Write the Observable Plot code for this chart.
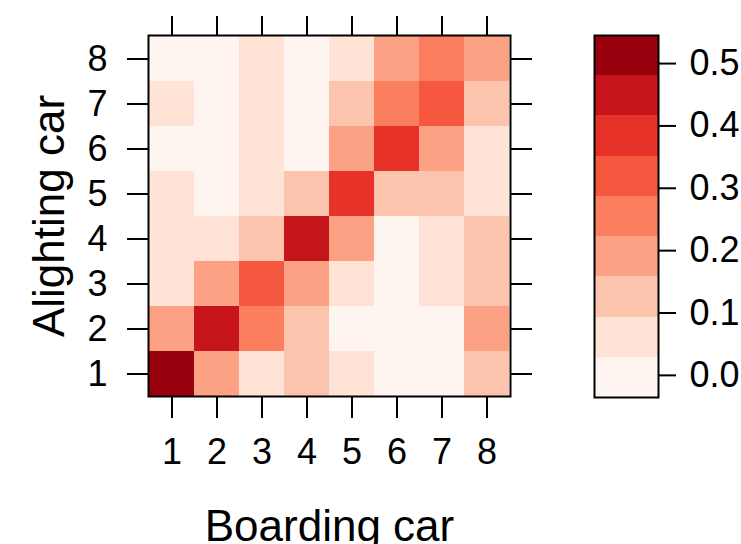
<!DOCTYPE html>
<html>
<head>
<meta charset="utf-8">
<script src="https://cdn.jsdelivr.net/npm/d3@7"></script>
<script src="https://cdn.jsdelivr.net/npm/@observablehq/plot@0.6"></script>
<style>
  body { margin: 0; background: white; }
  #wrap { position: relative; width: 741px; height: 544px; }
  #wrap svg { position: absolute; left: 0; top: 0; }
</style>
</head>
<body>
<div id="wrap"></div>
<script>
// Boarding car (x) and alighting car (y)
const boardingCars = [1, 2, 3, 4, 5, 6, 7, 8];
const alightingCars = [1, 2, 3, 4, 5, 6, 7, 8];

// Share of passengers; one row per alighting car (1..8), values by boarding car (1..8)
const alight1 = [0.51, 0.19, 0.06, 0.13, 0.06, 0.01, 0.01, 0.12];
const alight2 = [0.19, 0.45, 0.26, 0.12, 0.01, 0.01, 0.01, 0.19];
const alight3 = [0.06, 0.20, 0.32, 0.19, 0.05, 0.01, 0.06, 0.13];
const alight4 = [0.06, 0.05, 0.12, 0.45, 0.20, 0.02, 0.06, 0.13];
const alight5 = [0.05, 0.02, 0.06, 0.13, 0.38, 0.12, 0.13, 0.06];
const alight6 = [0.02, 0.02, 0.06, 0.02, 0.19, 0.39, 0.20, 0.05];
const alight7 = [0.05, 0.02, 0.06, 0.02, 0.12, 0.25, 0.32, 0.13];
const alight8 = [0.02, 0.02, 0.06, 0.02, 0.06, 0.19, 0.26, 0.19];
const rows = [alight1, alight2, alight3, alight4, alight5, alight6, alight7, alight8];

// Colour key levels and colours
const levelBreaks = [-0.0355, 0.029, 0.0935, 0.158, 0.2225, 0.287, 0.3515, 0.416, 0.4805, 0.545];
const levelColors = ["#FFF5F0", "#FEE3D6", "#FCC4AD", "#FCA184", "#FB7E5E", "#F6583F", "#E63228", "#C5151B", "#99000D"];
const keyTicks = [0, 0.1, 0.2, 0.3, 0.4, 0.5];

const table = [];
alightingCars.forEach((a, i) => boardingCars.forEach((b, j) => table.push({board: b, alight: a, value: rows[i][j]})));

const levels = levelColors.map((c, i) => ({lo: levelBreaks[i], hi: levelBreaks[i + 1], mid: (levelBreaks[i] + levelBreaks[i + 1]) / 2}));

const colorOpts = {type: "threshold", domain: levelBreaks.slice(1, -1), range: levelColors};
const font = "Liberation Sans, Arial, Helvetica, sans-serif";
const tickFont = 36;

const main = Plot.plot({
  width: 741, height: 544,
  marginLeft: 148, marginRight: 231, marginTop: 35, marginBottom: 148,
  style: {fontFamily: font, fontSize: tickFont + "px", background: "transparent", color: "black"},
  x: {type: "band", domain: boardingCars, padding: 0},
  y: {type: "band", domain: alightingCars.slice().reverse(), padding: 0},
  color: colorOpts,
  marks: [
    Plot.cell(table, {x: "board", y: "alight", fill: "value", inset: 0, shapeRendering: "crispEdges"}),
    Plot.frame({stroke: "black", strokeWidth: 2}),
    Plot.axisX({anchor: "bottom", tickSize: 22, tickPadding: 20, fontSize: tickFont, strokeWidth: 2, label: null}),
    Plot.axisX({anchor: "top", tickSize: 20, tickFormat: () => "", strokeWidth: 2, label: null}),
    Plot.axisY({anchor: "left", tickSize: 21, tickPadding: 20, fontSize: tickFont, strokeWidth: 2, label: null}),
    Plot.axisY({anchor: "right", tickSize: 21, tickFormat: () => "", strokeWidth: 2, label: null}),
    Plot.text(["Boarding car"], {frameAnchor: "bottom", dy: 130, fontSize: 44, lineAnchor: "middle"}),
    Plot.text(["Alighting car"], {frameAnchor: "left", dx: -99, rotate: -90, fontSize: 44, textAnchor: "middle", lineAnchor: "middle"})
  ]
});

const key = Plot.plot({
  width: 741, height: 544,
  marginLeft: 594, marginRight: 83, marginTop: 35, marginBottom: 147,
  style: {fontFamily: font, fontSize: tickFont + "px", background: "transparent", color: "black"},
  y: {domain: [levelBreaks[0], levelBreaks[levelBreaks.length - 1]]},
  color: colorOpts,
  marks: [
    Plot.rectY(levels, {y1: "lo", y2: "hi", fill: "mid", shapeRendering: "crispEdges"}),
    Plot.frame({stroke: "black", strokeWidth: 2}),
    Plot.axisY({anchor: "right", ticks: keyTicks, tickSize: 17, tickPadding: 14, fontSize: tickFont, strokeWidth: 2, tickFormat: d3.format(".1f"), label: null})
  ]
});

document.getElementById("wrap").append(main, key);
</script>
</body>
</html>
